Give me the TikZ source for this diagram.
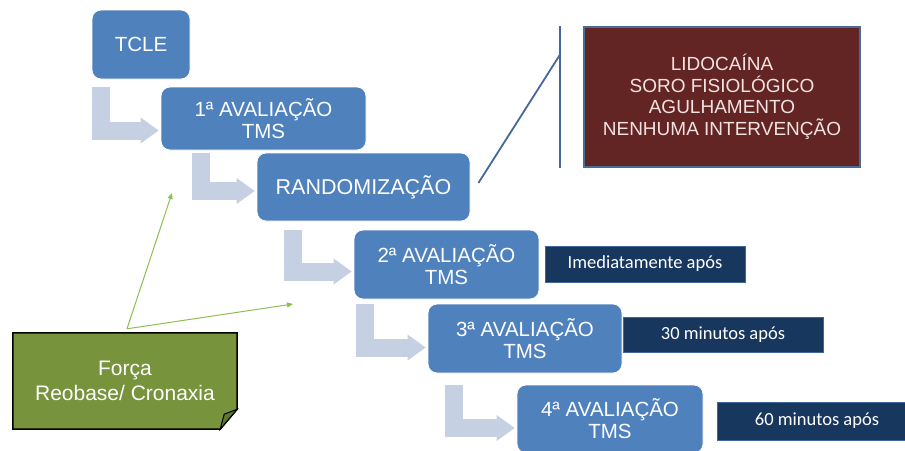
\documentclass[tikz,border=0pt]{standalone}
\usepackage{fontspec}
\setmainfont{Liberation Sans}
\newfontfamily\calibri{Carlito}
\usepackage{tikz}
\usetikzlibrary{arrows.meta, backgrounds}

\definecolor{azulcaixa}{HTML}{4F81BD}
\definecolor{cinzaazul}{HTML}{C5D0E3}
\definecolor{azulescuro}{HTML}{17375E}
\definecolor{bordaescura}{HTML}{41679A}
\definecolor{vinho}{HTML}{632523}
\definecolor{bordavinho}{HTML}{4A6A9A}
\definecolor{textovinho}{HTML}{F2E2E2}
\definecolor{verdenota}{HTML}{77933C}
\definecolor{verdedobra}{HTML}{5E762F}
\definecolor{verdeseta}{HTML}{8DBE55}
\definecolor{azullinha}{HTML}{44689B}

\begin{document}
\begin{tikzpicture}[x=1pt,y=-1pt,
	etapa/.style={fill=azulcaixa, draw=white, line width=0.8pt, rounded corners=9pt,
		text=white, align=center, inner sep=0pt, font=\fontsize{20.5}{22}\selectfont},
	tempo/.style={fill=azulescuro, draw=bordaescura, line width=1pt, minimum width=200pt,
		text=white, inner sep=0pt, font=\calibri\fontsize{18.5}{20}\selectfont},
	tratamento/.style={fill=vinho, draw=bordavinho, line width=1.5pt, text=textovinho,
		align=center, inner sep=0pt, font=\fontsize{19}{21.5}\selectfont},
	nota/.style={text=white, align=center, inner sep=0pt, font=\fontsize{21}{25}\selectfont},
	seta/.style={cinzaazul, line width=18pt, line join=miter,
		-{Triangle[length=18pt,width=26pt,line width=0pt]}},
	linha/.style={verdeseta, line width=1pt, -{Triangle[length=6pt,width=5pt]}},
	chave/.style={azullinha, line width=1.8pt}]
	\useasboundingbox (0,0) rectangle (905,450);

	\node[etapa, minimum width=98pt, minimum height=69pt] (tcle) at (141,44.5) {TCLE};
	\node[etapa, minimum width=205pt, minimum height=63pt] (ava1) at (263.5,118.5) {1ª AVALIAÇÃO\\TMS};
	\node[etapa, minimum width=213pt, minimum height=68pt, font=\fontsize{21.5}{23}\selectfont] (rand) at (363.5,187) {RANDOMIZAÇÃO};
	\node[etapa, minimum width=185pt, minimum height=69pt] (ava2) at (446.5,264.5) {2ª AVALIAÇÃO\\TMS};
	\node[etapa, minimum width=194pt, minimum height=69pt] (ava3) at (525,338.5) {3ª AVALIAÇÃO\\TMS};
	\node[etapa, minimum width=186pt, minimum height=68pt] (ava4) at (610,419) {4ª AVALIAÇÃO\\TMS};

	\foreach \p/\dx/\dy in {ava1/60/12, rand/56/4, ava2/61/7, ava3/63/9, ava4/63/9}{
		\draw[seta] ([xshift=-\dx pt]\p.north west) |- ([xshift=-2pt,yshift=-\dy pt]\p.west);
	}

	\node[tempo, minimum height=36pt] (tempo1) at (645,264) {Imediatamente após};
	\node[tempo, minimum height=35pt] (tempo2) at (723,334.5) {30 minutos após};
	\node[tempo, minimum height=38pt] (tempo3) at (817,421) {60 minutos após};

	\node[tratamento, minimum width=276pt, minimum height=140pt] (trat) at (722,97) {LIDOCAÍNA\\SORO FISIOLÓGICO\\AGULHAMENTO\\NENHUMA INTERVENÇÃO};
	\draw[chave] ([xshift=-23pt]trat.north west) -- ([xshift=-23pt]trat.south west);
	\draw[chave] ([xshift=8pt,yshift=4pt]rand.east) -- ([xshift=-23pt,yshift=-28pt]trat.north west);

	\node[nota, minimum width=224pt, minimum height=96pt] (forca) at (125,381) {Força\\Reobase/ Cronaxia};
	\begin{scope}[on background layer]
		\filldraw[fill=verdenota, draw=black, line width=1.5pt] (forca.north west) -- (forca.north east)
			-- ([yshift=20pt]forca.south east) -- ([xshift=-17pt]forca.south east) -- (forca.south west) -- cycle;
		\filldraw[fill=verdedobra, draw=black, line width=1pt] ([yshift=20pt]forca.south east)
			-- ([xshift=-13pt,yshift=15pt]forca.south east) -- ([xshift=-17pt]forca.south east) -- cycle;
	\end{scope}

	\coordinate (alvo1) at (172,193);
	\coordinate (alvo2) at (293,304);
	\draw[linha] ([xshift=2pt,yshift=4pt]forca.north) -- (alvo1);
	\draw[linha] ([xshift=2pt,yshift=4pt]forca.north) -- (alvo2);
\end{tikzpicture}
\end{document}
